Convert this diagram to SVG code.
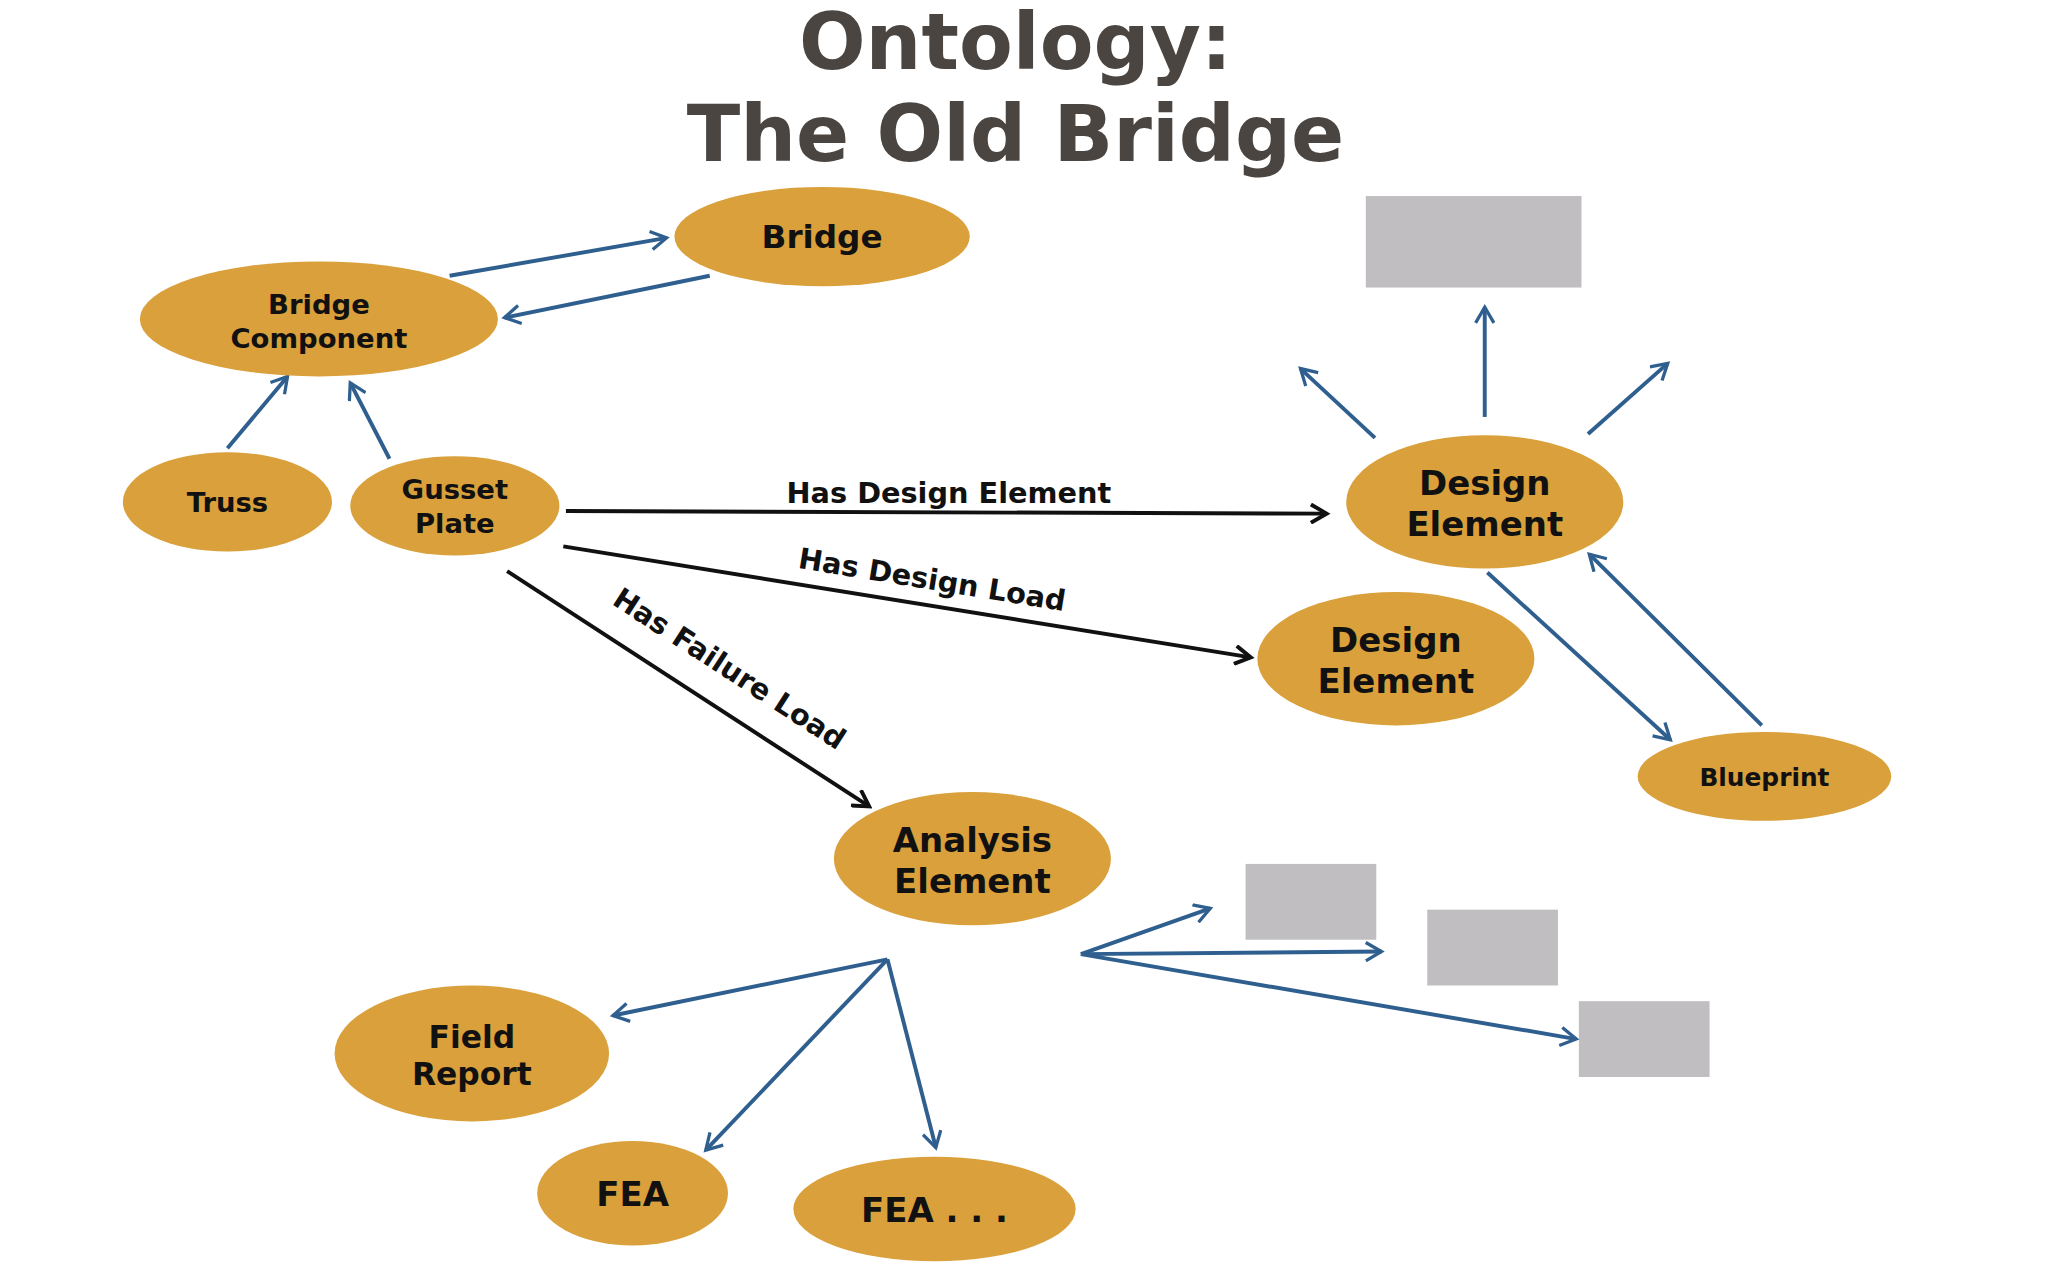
<svg xmlns="http://www.w3.org/2000/svg" width="2048" height="1280" viewBox="0 0 2048 1280">
<style>
.n{fill:#d9a03b}
.t{font-family:"DejaVu Sans",Verdana,sans-serif;font-weight:bold;fill:#111;text-anchor:middle}
.b{stroke:#2f5f8f;stroke-width:3;fill:none;marker-end:url(#ab)}
.k{stroke:#111;stroke-width:3;fill:none;marker-end:url(#ak)}
.g{fill:#c0bec1}
</style>
<defs>
<marker id="ab" markerWidth="16" markerHeight="16" refX="13" refY="8" orient="auto" markerUnits="userSpaceOnUse"><path d="M1,1 L13,8 L1,15" fill="none" stroke="#2f5f8f" stroke-width="2.5"/></marker>
<marker id="ak" markerWidth="16" markerHeight="16" refX="13" refY="8" orient="auto" markerUnits="userSpaceOnUse"><path d="M1,1 L13,8 L1,15" fill="none" stroke="#111" stroke-width="3"/></marker>
</defs>
<rect width="2048" height="1280" fill="#fff"/>
<g transform="scale(1.307)">
<g id="title" class="t" style="fill:#4a4541;font-size:60px"><text x="777" y="53">Ontology:</text><text x="777" y="123">The Old Bridge</text></g>
<g id="boxes"><rect class="g" x="1045" y="150" width="165" height="70"/><rect class="g" x="953" y="661" width="100" height="58"/><rect class="g" x="1092" y="696" width="100" height="58"/><rect class="g" x="1208" y="766" width="100" height="58"/></g>
<g id="connectors">
<path class="b" d="M344,211 L510,182"/><path class="b" d="M543,211 L386,243"/>
<path class="b" d="M174,343 L220,288"/><path class="b" d="M298,351 L268,293"/>
<path class="b" d="M1052,335 L995,282"/><path class="b" d="M1136,319 L1136,235"/><path class="b" d="M1215,332 L1276,278"/>
<path class="b" d="M1138,438 L1278,566"/><path class="b" d="M1348,555 L1216,424"/>
<path class="b" d="M679,734 L469,777"/><path class="b" d="M679,734 L540,880"/><path class="b" d="M679,734 L716,878"/>
<path class="b" d="M827,730 L926,695"/><path class="b" d="M827,730 L1057,728"/><path class="b" d="M827,730 L1206,795"/>
<path class="k" d="M433,391 L1015,393"/><path class="k" d="M431,418 L957,503"/><path class="k" d="M388,437 L665,617"/>
<g class="t" style="font-size:22px"><text x="726" y="385">Has Design Element</text><text transform="translate(712,451) rotate(9.2)">Has Design Load</text><text transform="translate(554,518) rotate(33)">Has Failure Load</text></g>
</g>
<g id="bridge"><ellipse class="n" cx="629" cy="181" rx="113" ry="38"/><text class="t" x="629" y="190" font-size="25">Bridge</text></g>
<g id="component"><ellipse class="n" cx="244" cy="244" rx="137" ry="44"/><text class="t" x="244" y="240" font-size="21">Bridge</text><text class="t" x="244" y="266" font-size="21">Component</text></g>
<g id="truss"><ellipse class="n" cx="174" cy="384" rx="80" ry="38"/><text class="t" x="174" y="392" font-size="21">Truss</text></g>
<g id="gusset"><ellipse class="n" cx="348" cy="387" rx="80" ry="38"/><text class="t" x="348" y="382" font-size="21">Gusset</text><text class="t" x="348" y="408" font-size="21">Plate</text></g>
<g id="design1"><ellipse class="n" cx="1136" cy="384" rx="106" ry="51"/><text class="t" x="1136" y="379" font-size="26">Design</text><text class="t" x="1136" y="410" font-size="26">Element</text></g>
<g id="design2"><ellipse class="n" cx="1068" cy="504" rx="106" ry="51"/><text class="t" x="1068" y="499" font-size="26">Design</text><text class="t" x="1068" y="530" font-size="26">Element</text></g>
<g id="blueprint"><ellipse class="n" cx="1350" cy="594" rx="97" ry="34"/><text class="t" x="1350" y="601" font-size="19">Blueprint</text></g>
<g id="analysis"><ellipse class="n" cx="744" cy="657" rx="106" ry="51"/><text class="t" x="744" y="652" font-size="26">Analysis</text><text class="t" x="744" y="683" font-size="26">Element</text></g>
<g id="field"><ellipse class="n" cx="361" cy="806" rx="105" ry="52"/><text class="t" x="361" y="802" font-size="24">Field</text><text class="t" x="361" y="830" font-size="24">Report</text></g>
<g id="fea"><ellipse class="n" cx="484" cy="913" rx="73" ry="40"/><text class="t" x="484" y="923" font-size="26">FEA</text></g>
<g id="fea2"><ellipse class="n" cx="715" cy="925" rx="108" ry="40"/><text class="t" x="715" y="935" font-size="26">FEA . . .</text></g>
</g>
</svg>
